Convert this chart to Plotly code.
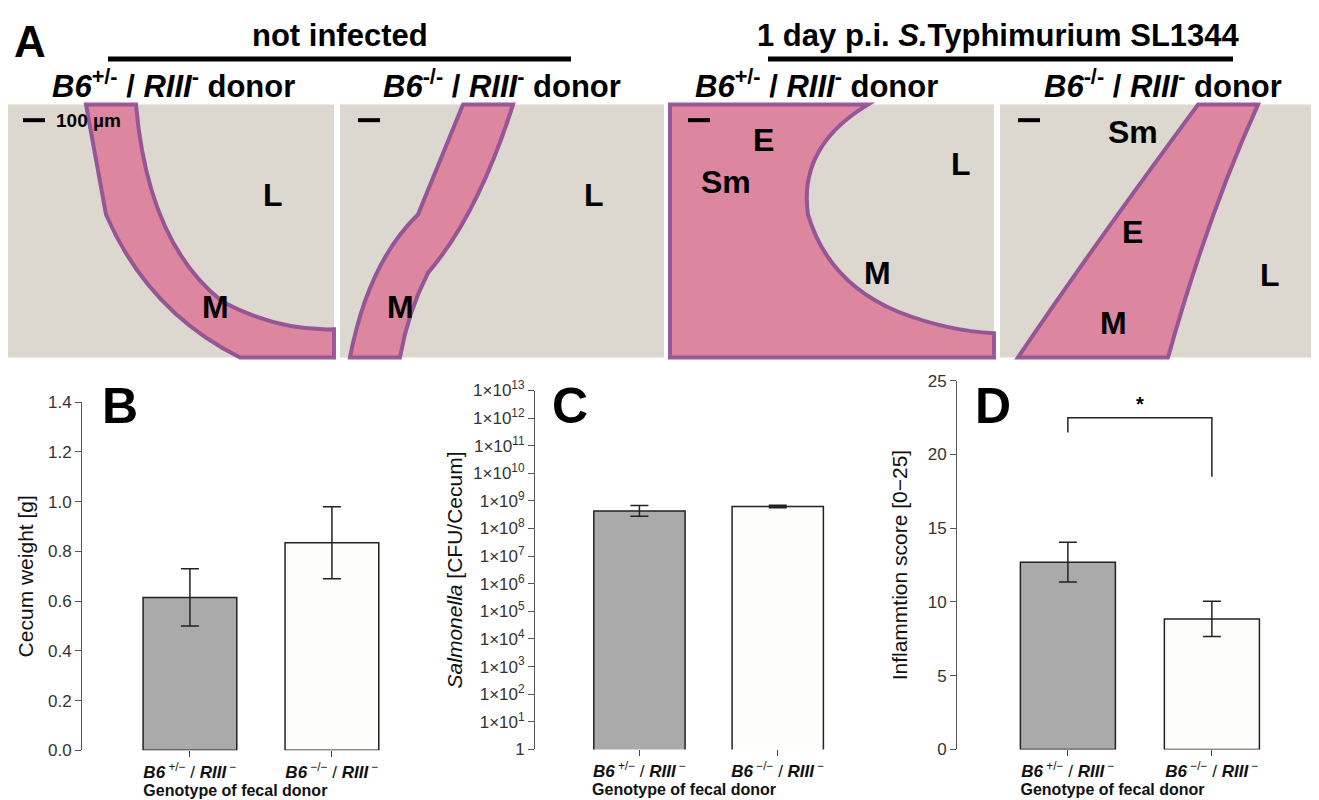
import plotly.graph_objects as go

# tick labels of the genotype groups
groups = [
    "<b><i>B6</i></b><sup> +/−</sup> / <b><i>RIII</i></b><sup> −</sup>",
    "<b><i>B6</i></b><sup> −/−</sup> / <b><i>RIII</i></b><sup> −</sup>",
]
xpos = [0, 1]

cecum_weight = [0.615, 0.835]
cecum_err_hi = [0.115, 0.145]
cecum_err_lo = [0.115, 0.145]

salmonella = [4.3e8, 6.3e8]
salm_err_hi = [2.6e8, 0.7e8]
salm_err_lo = [1.5e8, 0.6e8]

inflammation = [12.7, 8.85]
infl_err_hi = [1.35, 1.2]
infl_err_lo = [1.35, 1.2]

bar_colors = ["#aaaaaa", "#fdfdfb"]
FONT = "Liberation Sans, Arial, sans-serif"

fig = go.Figure()


def add_bars(vals, hi, lo, xa, ya):
    fig.add_trace(go.Bar(
        x=xpos, y=vals, width=0.66, xaxis=xa, yaxis=ya,
        marker=dict(color=bar_colors, line=dict(color="#222", width=1.5)),
        error_y=dict(type="data", array=hi, arrayminus=lo, color="#222",
                     thickness=1.5, width=9),
        showlegend=False, hoverinfo="skip",
    ))


add_bars(cecum_weight, cecum_err_hi, cecum_err_lo, "x", "y")
add_bars(salmonella, salm_err_hi, salm_err_lo, "x2", "y2")
add_bars(inflammation, infl_err_hi, infl_err_lo, "x3", "y3")

W, H = 1319, 800
xax = dict(tickvals=xpos, ticktext=groups, ticks="outside", ticklen=6, tickcolor="#444",
           showline=False, showgrid=False, zeroline=False, fixedrange=True,
           tickfont=dict(family=FONT, size=17, color="#111"),
           title=dict(text="<b>Genotype of fecal donor</b>", standoff=0,
                      font=dict(family=FONT, size=16, color="#111")))
yax = dict(showline=True, linecolor="#555", ticks="outside", ticklen=6, tickcolor="#555",
           showgrid=False, zeroline=False, tickfont=dict(family=FONT, size=17, color="#333"))


def dom(px0, px1):
    return [px0 / W, px1 / W]


def vdom(pbot, ptop):
    return [1 - pbot / H, 1 - ptop / H]


layout = dict(
    width=W, height=H, margin=dict(l=0, r=0, t=0, b=0),
    paper_bgcolor="white", plot_bgcolor="rgba(0,0,0,0)",
    font=dict(family=FONT),
    xaxis=dict(xax, anchor="y", domain=dom(74, 74 + 2.16 * 142), range=[-0.76, 1.40]),
    yaxis=dict(yax, anchor="x", domain=vdom(751, 393), range=[0, 1.4],
               tickvals=[0, .2, .4, .6, .8, 1.0, 1.2, 1.4], tickformat=".1f",
               title=dict(text="Cecum weight [g]", standoff=8, font=dict(size=21, color="#111"))),
    xaxis2=dict(xax, anchor="y2", domain=dom(527, 527 + 2.16 * 138), range=[-0.755, 1.40]),
    yaxis2=dict(yax, anchor="x2", type="log", domain=vdom(750, 381), range=[0, 13],
                tickvals=[10 ** k for k in range(14)],
                ticktext=["1"] + ["1×10<sup>%d</sup>" % k for k in range(1, 14)],
                title=dict(text="<i>Salmonella</i> [CFU/Cecum]", standoff=4,
                           font=dict(size=21, color="#111"))),
    xaxis3=dict(xax, anchor="y3", domain=dom(949, 949 + 2.16 * 144), range=[-0.77, 1.39]),
    yaxis3=dict(yax, anchor="x3", domain=vdom(750, 371), range=[0, 25], tickvals=[0, 5, 10, 15, 20, 25],
                title=dict(text="Inflammtion score [0−25]", standoff=14,
                           font=dict(size=21, color="#111"))),
    xaxis4=dict(anchor="y4", domain=[0, 1], range=[0, W], visible=False, fixedrange=True),
    yaxis4=dict(anchor="x4", domain=[0, 1], range=[H, 0], visible=False, fixedrange=True),
)
fig.update_layout(**layout)
fig.add_trace(go.Scatter(x=[0], y=[0], xaxis="x4", yaxis="y4", mode="markers",
                         marker=dict(opacity=0), showlegend=False, hoverinfo="skip"))

shapes = []
annos = []


def txt(x, y, s, size, color="black", ref="4"):
    annos.append(dict(x=x, y=y, xref="x" + ref, yref="y" + ref, text=s, showarrow=False,
                      font=dict(family=FONT, size=size, color=color)))


# histology panels (drawn as stylised placeholders)
panels = [(0, 326), (332, 656), (662, 986), (992, 1319)]
for x0, x1 in panels:
    shapes.append(dict(type="rect", xref="x4", yref="y4", x0=x0, x1=x1, y0=87, y1=347,
                       fillcolor="#dcd8cf", line=dict(width=0), layer="below"))
tissue = [
    "M 78 87 L 128 87 Q 140 230 215 290 Q 270 320 326 318 L 326 347 L 232 347 Q 140 300 98 200 Z",
    "M 455 87 L 505 87 Q 470 200 420 260 Q 400 300 392 347 L 342 347 Q 360 250 410 200 Z",
    "M 662 87 L 860 87 Q 790 130 800 200 Q 820 270 890 300 Q 940 320 986 322 L 986 347 L 662 347 Z",
    "M 1190 87 L 1250 87 Q 1200 200 1160 347 L 1010 347 Q 1080 240 1190 87 Z",
]
for p in tissue:
    shapes.append(dict(type="path", xref="x4", yref="y4", path=p, fillcolor="#dd7898",
                       line=dict(color="#8a3f8c", width=4), opacity=0.85, layer="below"))

# header lines
shapes.append(dict(type="line", xref="x4", yref="y4", x0=100, x1=563, y0=40, y1=40,
                   line=dict(color="black", width=5)))
shapes.append(dict(type="line", xref="x4", yref="y4", x0=760, x1=1225, y0=40, y1=40,
                   line=dict(color="black", width=5)))
# scale bars
for sx in [15, 350, 680, 1010]:
    shapes.append(dict(type="line", xref="x4", yref="y4", x0=sx, x1=sx + 22, y0=103, y1=103,
                       line=dict(color="black", width=4)))

txt(22, 22, "<b>A</b>", 44)
txt(332, 16, "<b>not infected</b>", 31)
txt(990, 16, "<b>1 day p.i. <i>S.</i>Typhimurium SL1344</b>", 31)
sub_p = "<b><i>B6</i><sup>+/-</sup> / <i>RIII</i><sup>-</sup> donor</b>"
sub_m = "<b><i>B6</i><sup>-/-</sup> / <i>RIII</i><sup>-</sup> donor</b>"
for cx, s in [(165, sub_p), (494, sub_m), (808, sub_p), (1155, sub_m)]:
    txt(cx, 66, s, 31)
txt(80, 103, "<b>100 µm</b>", 19)
for x, y, s in [(265, 180, "L"), (207, 295, "M"), (586, 180, "L"), (392, 295, "M"),
                (755, 123, "E"), (718, 167, "Sm"), (953, 148, "L"), (869, 260, "M"),
                (1125, 115, "Sm"), (1124, 218, "E"), (1262, 262, "L"), (1105, 312, "M")]:
    txt(x, y, "<b>%s</b>" % s, 32)

# panel letters
txt(112, 397, "<b>B</b>", 50)
txt(562, 397, "<b>C</b>", 50)
txt(985, 397, "<b>D</b>", 50)

# significance bracket in D
shapes.append(dict(type="path", xref="x3", yref="y3",
                   path="M 0 21.5 L 0 22.5 L 1 22.5 L 1 18.5",
                   line=dict(color="#222", width=1.5)))
txt(0.5, 23.4, "<b>*</b>", 20, ref="3")

fig.update_layout(shapes=shapes, annotations=annos)
fig.write_html("out.html")
